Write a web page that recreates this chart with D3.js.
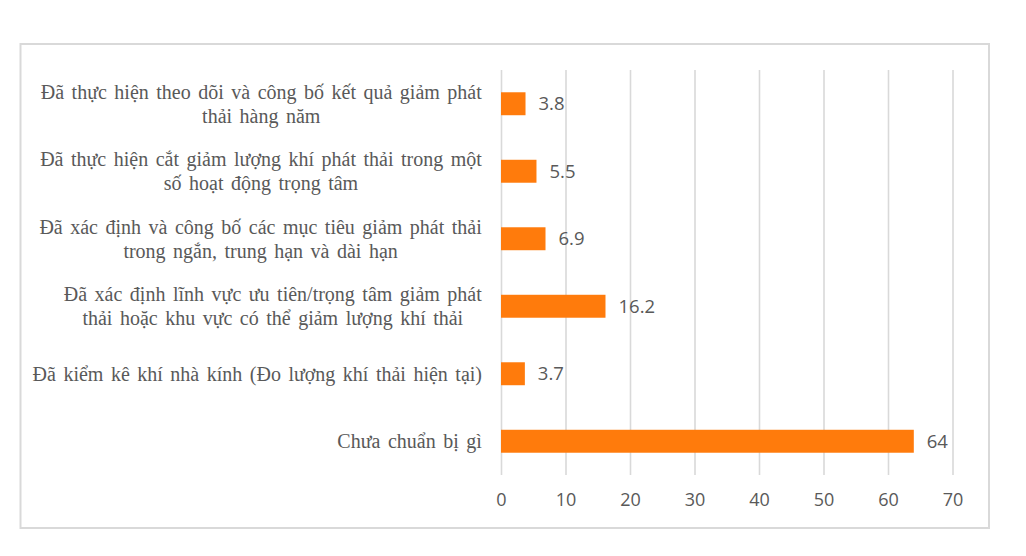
<!DOCTYPE html>
<html>
<head>
<meta charset="utf-8">
<script src="https://cdn.jsdelivr.net/npm/d3@7"></script>
<style>
  html, body { margin: 0; padding: 0; background: #fff; }
  svg { display: block; }
</style>
</head>
<body>
<svg id="chart" width="1026" height="556"></svg>
<script>
// ---- data ----
const categoryLines = [
  ["Đã thực hiện theo dõi và công bố kết quả giảm phát", "thải hàng năm"],
  ["Đã thực hiện cắt giảm lượng khí phát thải trong một", "số hoạt động trọng tâm"],
  ["Đã xác định và công bố các mục tiêu giảm phát thải", "trong ngắn, trung hạn và dài hạn"],
  ["Đã xác định lĩnh vực ưu tiên/trọng tâm giảm phát", "thải hoặc khu vực có thể giảm lượng khí thải"],
  ["Đã kiểm kê khí nhà kính (Đo lượng khí thải hiện tại)"],
  ["Chưa chuẩn bị gì"]
];
const values = [3.8, 5.5, 6.9, 16.2, 3.7, 64];
const valueLabels = ["3.8", "5.5", "6.9", "16.2", "3.7", "64"];
const tickValues = [0, 10, 20, 30, 40, 50, 60, 70];

// ---- layout ----
const svg = d3.select("#chart");
const plot = { left: 501, right: 952.5, top: 70, bottom: 475 };
const categories = categoryLines.map((l, i) => "c" + i);

svg.append("rect")
  .attr("x", 20.5).attr("y", 44)
  .attr("width", 968.5).attr("height", 484)
  .attr("fill", "#fff")
  .attr("stroke", "#d9d9d9").attr("stroke-width", 2);

const x = d3.scaleLinear().domain([0, 70]).range([plot.left, plot.right]);
const y = d3.scaleBand().domain(categories)
  .range([plot.top, plot.bottom])
  .paddingInner(0.66).paddingOuter(0.33);

// gridlines + tick labels via axis
const xAxis = d3.axisBottom(x).tickValues(tickValues).tickSize(-(plot.bottom - plot.top)).tickPadding(18);
const gx = svg.append("g").attr("transform", `translate(0,${plot.bottom})`).call(xAxis);
gx.select(".domain").remove();
gx.selectAll(".tick line").attr("stroke", "#d9d9d9").attr("stroke-width", 1.6);
gx.selectAll(".tick text")
  .attr("fill", "#595959")
  .style("font-family", "'Open Sans', sans-serif")
  .style("font-size", "18px");

// bars
svg.append("g").selectAll("rect")
  .data(values)
  .join("rect")
  .attr("x", x(0))
  .attr("y", (d, i) => y(categories[i]))
  .attr("width", d => x(d) - x(0))
  .attr("height", y.bandwidth())
  .attr("fill", "#ff7b0c");

// value labels
svg.append("g").selectAll("text")
  .data(values)
  .join("text")
  .attr("x", d => x(d) + 13)
  .attr("y", (d, i) => y(categories[i]) + y.bandwidth() / 2)
  .attr("dy", "0.36em")
  .attr("fill", "#595959")
  .style("font-family", "'Open Sans', sans-serif")
  .style("font-size", "18.5px")
  .text((d, i) => valueLabels[i]);

// category labels (block right-aligned, lines centered within block)
const labelRight = 482;
const lineH = 24;
const catG = svg.append("g")
  .style("font-family", "'Liberation Serif', 'Times New Roman', serif")
  .style("font-size", "20px")
  .style("word-spacing", "2.5px")
  .attr("fill", "#595959");

categoryLines.forEach((lines, i) => {
  const cy = y(categories[i]) + y.bandwidth() / 2;
  const g = catG.append("g");
  const texts = g.selectAll("text").data(lines).join("text")
    .attr("y", (d, j) => cy + (j - (lines.length - 1) / 2) * lineH)
    .attr("dy", "0.35em")
    .text(d => d);
  const widths = [];
  texts.each(function() { widths.push(this.getBBox().width); });
  const blockW = d3.max(widths);
  const cx = labelRight - blockW / 2;
  texts.attr("x", cx).attr("text-anchor", "middle");
});
</script>
</body>
</html>
